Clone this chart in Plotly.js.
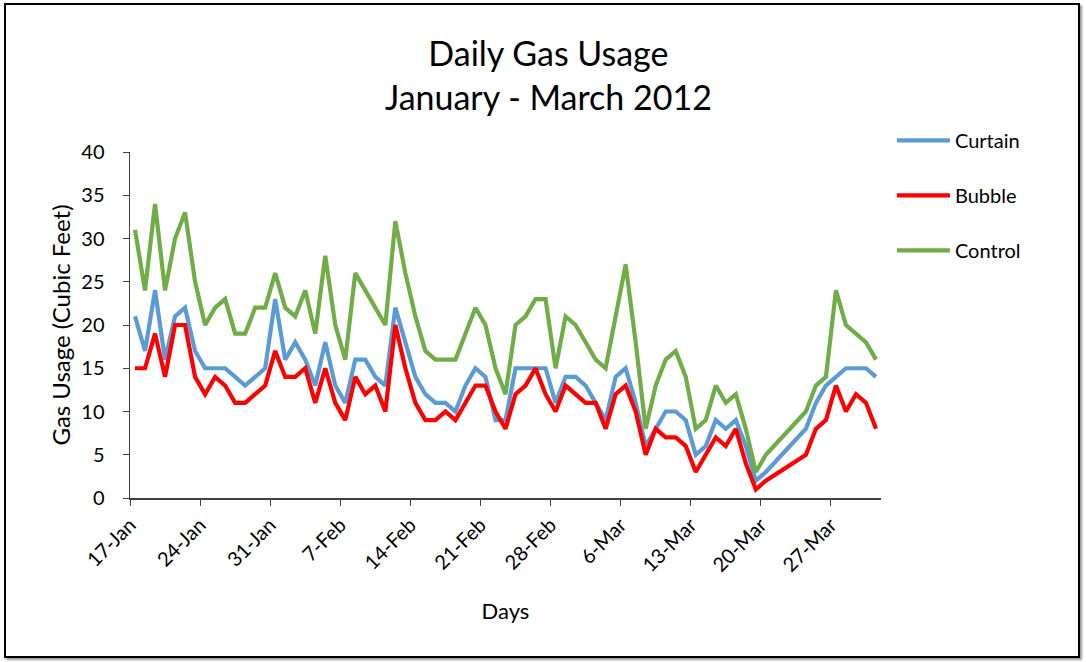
<!DOCTYPE html>
<html>
<head>
<meta charset="utf-8">
<script src="https://cdn.plot.ly/plotly-3.0.1.min.js"></script>
<style>
  html, body { margin: 0; padding: 0; background: #ffffff; }
  #chart { position: absolute; left: 0; top: 0; width: 1086px; height: 662px; }
  #frame { position: absolute; left: 4px; top: 3px; width: 1076px; height: 655px;
           box-sizing: border-box; border: 2px solid #000; box-shadow: 2px 2px 2px #9a9a9a;
           pointer-events: none; }
</style>
</head>
<body>
<div id="chart"></div>
<div id="frame"></div>
<script>
// Days with readings (21-23 Mar have no data; the line joins across them)
var days = [
  '2012-01-17','2012-01-18','2012-01-19','2012-01-20','2012-01-21','2012-01-22','2012-01-23',
  '2012-01-24','2012-01-25','2012-01-26','2012-01-27','2012-01-28','2012-01-29','2012-01-30',
  '2012-01-31','2012-02-01','2012-02-02','2012-02-03','2012-02-04','2012-02-05','2012-02-06',
  '2012-02-07','2012-02-08','2012-02-09','2012-02-10','2012-02-11','2012-02-12','2012-02-13',
  '2012-02-14','2012-02-15','2012-02-16','2012-02-17','2012-02-18','2012-02-19','2012-02-20',
  '2012-02-21','2012-02-22','2012-02-23','2012-02-24','2012-02-25','2012-02-26','2012-02-27',
  '2012-02-28','2012-02-29','2012-03-01','2012-03-02','2012-03-03','2012-03-04','2012-03-05',
  '2012-03-06','2012-03-07','2012-03-08','2012-03-09','2012-03-10','2012-03-11','2012-03-12',
  '2012-03-13','2012-03-14','2012-03-15','2012-03-16','2012-03-17','2012-03-18','2012-03-19',
  '2012-03-20',
  '2012-03-24','2012-03-25','2012-03-26','2012-03-27','2012-03-28','2012-03-29','2012-03-30',
  '2012-03-31'
];

var curtain = [
  21,17,24,16,21,22,17,
  15,15,15,14,13,14,15,
  23,16,18,16,13,18,13,
  11,16,16,14,13,22,18,
  14,12,11,11,10,13,15,
  14,9,9,15,15,15,15,
  11,14,14,13,11,9,14,
  15,11,6,8,10,10,9,
  5,6,9,8,9,6,2,
  3,
  8,11,13,14,15,15,15,
  14
];

var bubble = [
  15,15,19,14,20,20,14,
  12,14,13,11,11,12,13,
  17,14,14,15,11,15,11,
  9,14,12,13,10,20,15,
  11,9,9,10,9,11,13,
  13,10,8,12,13,15,12,
  10,13,12,11,11,8,12,
  13,10,5,8,7,7,6,
  3,5,7,6,8,4,1,
  2,
  5,8,9,13,10,12,11,
  8
];

var control = [
  31,24,34,24,30,33,25,
  20,22,23,19,19,22,22,
  26,22,21,24,19,28,20,
  16,26,24,22,20,32,26,
  21,17,16,16,16,19,22,
  20,15,12,20,21,23,23,
  15,21,20,18,16,15,21,
  27,18,8,13,16,17,14,
  8,9,13,11,12,8,3,
  5,
  10,13,14,24,20,19,18,
  16
];

var tickDays = ['2012-01-17','2012-01-24','2012-01-31','2012-02-07','2012-02-14','2012-02-21',
                '2012-02-28','2012-03-06','2012-03-13','2012-03-20','2012-03-27'];
var tickLabels = ['17-Jan','24-Jan','31-Jan','7-Feb','14-Feb','21-Feb',
                  '28-Feb','6-Mar','13-Mar','20-Mar','27-Mar'];
var yTicks = [0,5,10,15,20,25,30,35,40];

var seriesNames = ['Curtain','Bubble','Control'];
var seriesColors = ['#5B9BD5','#FF0000','#70AD47'];

// Date axis with points centred in each day's slot: labels sit on day boundaries
var HALF_DAY = 12 * 3600 * 1000;
function ms(d) { return Date.parse(d + 'T00:00:00Z'); }
var xMs = days.map(ms);
var tickVals = tickDays.map(function (d) { return ms(d) - HALF_DAY; });
var xRange = [ms('2012-01-17') - HALF_DAY, ms('2012-03-31') + HALF_DAY];

var font = 'Lato, "Open Sans", "Noto Sans", sans-serif';
var data = [curtain, bubble, control].map(function (vals, i) {
  return {
    type: 'scatter', mode: 'lines',
    x: xMs, y: vals,
    name: seriesNames[i],
    legendgroup: seriesNames[i],
    line: { color: seriesColors[i], width: 4.2, shape: 'linear' },
    hoverinfo: 'x+y+name'
  };
});

var layout = {
  width: 1086, height: 662,
  paper_bgcolor: '#ffffff', plot_bgcolor: '#ffffff',
  margin: { l: 129.5, r: 205, t: 152, b: 164 },
  font: { family: font, color: '#000000', size: 20 },
  title: {
    text: 'Daily Gas Usage<br>January - March 2012',
    font: { family: font, size: 34, color: '#000000' },
    xref: 'container', x: 0.505, xanchor: 'center',
    yref: 'container', y: 0.901, yanchor: 'top'
  },
  xaxis: {
    type: 'date',
    range: xRange,
    tickmode: 'array', tickvals: tickVals, ticktext: tickLabels,
    tickangle: -45,
    ticks: 'outside', ticklen: 6, tickwidth: 1, tickcolor: '#404040',
    showline: true, linecolor: '#404040', linewidth: 1.5,
    showgrid: false, zeroline: false,
    tickfont: { family: font, size: 20, color: '#000000' },
    title: { text: 'Days', font: { family: font, size: 22, color: '#000000' }, standoff: 28 },
    automargin: false
  },
  yaxis: {
    range: [0, 40],
    tickmode: 'array', tickvals: yTicks,
    ticks: 'outside', ticklen: 6, tickwidth: 1, tickcolor: '#404040',
    showline: true, linecolor: '#404040', linewidth: 1.5,
    showgrid: false, zeroline: false,
    ticklabelstandoff: 14,
    tickfont: { family: font, size: 20, color: '#000000' },
    title: { text: 'Gas Usage (Cubic Feet)', font: { family: font, size: 24, color: '#000000' }, standoff: 4 },
    automargin: false
  },
  showlegend: true,
  legend: {
    x: 1.0146, xanchor: 'left',
    y: 1.09, yanchor: 'top',
    bgcolor: 'rgba(0,0,0,0)',
    font: { family: font, size: 20, color: '#000000' },
    itemwidth: 53,
    tracegroupgap: 26,
    traceorder: 'grouped'
  }
};

Plotly.newPlot('chart', data, layout, { displayModeBar: false, staticPlot: true });
</script>
</body>
</html>
